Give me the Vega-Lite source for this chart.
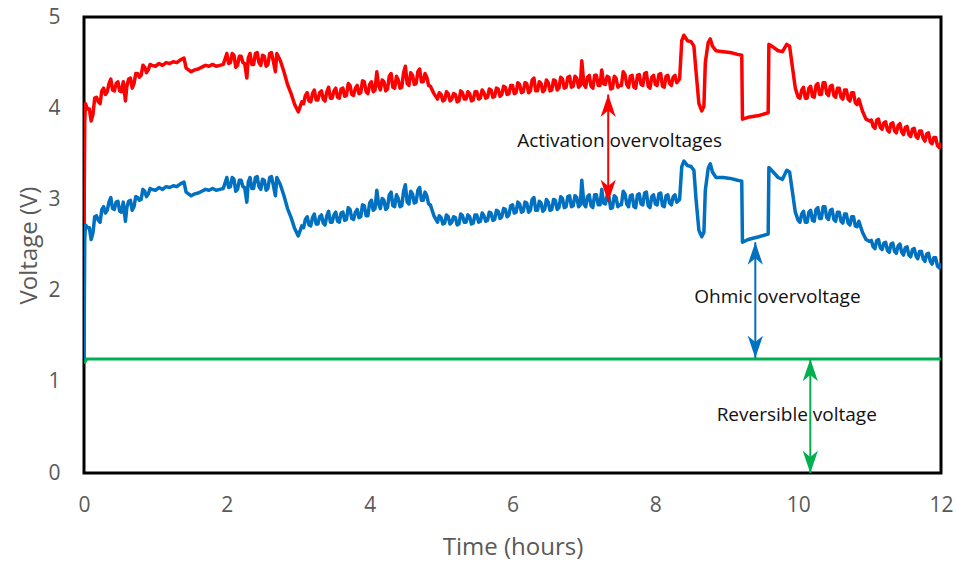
{
  "$schema": "https://vega.github.io/schema/vega-lite/v6.json",
  "width": 857,
  "height": 456,
  "autosize": {"type": "none"},
  "padding": {"left": 84, "top": 17, "right": 15, "bottom": 94},
  "background": "white",
  "datasets": {
    "volt": [
      {"t":0,"a":2.65,"o":1.23},{"t":0.01,"a":3.85,"o":2.55},{"t":0.02,"a":4.05,"o":2.72},
      {"t":0.05,"a":3.99,"o":2.69},{"t":0.10,"a":3.86,"o":2.56},{"t":0.15,"a":4.11,"o":2.81},{"t":0.20,"a":4.07,"o":2.77},
      {"t":0.25,"a":4.19,"o":2.89},{"t":0.30,"a":4.15,"o":2.85},{"t":0.35,"a":4.27,"o":2.97},{"t":0.40,"a":4.20,"o":2.90},
      {"t":0.45,"a":4.27,"o":2.97},{"t":0.50,"a":4.19,"o":2.87},{"t":0.55,"a":4.29,"o":2.97},{"t":0.58,"a":4.08,"o":2.76},
      {"t":0.60,"a":4.24,"o":2.91},{"t":0.65,"a":4.33,"o":2.99},{"t":0.70,"a":4.27,"o":2.92},{"t":0.75,"a":4.38,"o":3.02},
      {"t":0.80,"a":4.36,"o":3.00},{"t":0.85,"a":4.45,"o":3.09},{"t":0.90,"a":4.42,"o":3.06},{"t":0.95,"a":4.47,"o":3.11},
      {"t":1.00,"a":4.46,"o":3.10},{"t":1.05,"a":4.49,"o":3.13},{"t":1.10,"a":4.47,"o":3.11},{"t":1.15,"a":4.50,"o":3.14},
      {"t":1.20,"a":4.49,"o":3.13},{"t":1.25,"a":4.51,"o":3.15},{"t":1.30,"a":4.50,"o":3.14},{"t":1.35,"a":4.53,"o":3.17},
      {"t":1.40,"a":4.55,"o":3.19},{"t":1.43,"a":4.44,"o":3.08},{"t":1.50,"a":4.40,"o":3.04},{"t":1.55,"a":4.42,"o":3.06},
      {"t":1.60,"a":4.43,"o":3.07},{"t":1.65,"a":4.45,"o":3.09},{"t":1.70,"a":4.47,"o":3.11},{"t":1.75,"a":4.46,"o":3.10},
      {"t":1.80,"a":4.48,"o":3.12},{"t":1.85,"a":4.46,"o":3.10},{"t":1.90,"a":4.47,"o":3.11},{"t":1.95,"a":4.48,"o":3.12},
      {"t":2.00,"a":4.60,"o":3.24},{"t":2.05,"a":4.50,"o":3.14},{"t":2.10,"a":4.58,"o":3.22},{"t":2.15,"a":4.47,"o":3.11},
      {"t":2.20,"a":4.57,"o":3.21},{"t":2.25,"a":4.49,"o":3.13},{"t":2.28,"a":4.33,"o":2.97},{"t":2.30,"a":4.55,"o":3.19},
      {"t":2.35,"a":4.48,"o":3.12},{"t":2.40,"a":4.60,"o":3.24},{"t":2.45,"a":4.50,"o":3.14},{"t":2.50,"a":4.58,"o":3.22},
      {"t":2.55,"a":4.46,"o":3.10},{"t":2.60,"a":4.60,"o":3.24},{"t":2.65,"a":4.52,"o":3.16},{"t":2.68,"a":4.40,"o":3.04},
      {"t":2.70,"a":4.60,"o":3.24},{"t":2.75,"a":4.52,"o":3.16},{"t":2.80,"a":4.40,"o":3.04},{"t":2.85,"a":4.26,"o":2.90},
      {"t":2.90,"a":4.16,"o":2.80},{"t":2.95,"a":4.04,"o":2.68},{"t":3.00,"a":3.96,"o":2.60},{"t":3.05,"a":4.07,"o":2.71},
      {"t":3.10,"a":4.14,"o":2.78},{"t":3.15,"a":4.08,"o":2.72},{"t":3.20,"a":4.16,"o":2.80},{"t":3.25,"a":4.09,"o":2.73},
      {"t":3.30,"a":4.17,"o":2.81},{"t":3.35,"a":4.10,"o":2.74},{"t":3.40,"a":4.18,"o":2.82},{"t":3.45,"a":4.11,"o":2.75},
      {"t":3.50,"a":4.19,"o":2.83},{"t":3.55,"a":4.12,"o":2.76},{"t":3.60,"a":4.21,"o":2.85},{"t":3.65,"a":4.13,"o":2.77},
      {"t":3.70,"a":4.27,"o":2.91},{"t":3.75,"a":4.15,"o":2.79},{"t":3.80,"a":4.22,"o":2.86},{"t":3.85,"a":4.16,"o":2.80},
      {"t":3.90,"a":4.30,"o":2.94},{"t":3.95,"a":4.18,"o":2.82},{"t":4.00,"a":4.26,"o":2.96},{"t":4.05,"a":4.18,"o":2.88},
      {"t":4.10,"a":4.40,"o":3.10},{"t":4.15,"a":4.20,"o":2.90},{"t":4.20,"a":4.29,"o":2.99},{"t":4.25,"a":4.21,"o":2.91},
      {"t":4.30,"a":4.38,"o":3.08},{"t":4.35,"a":4.22,"o":2.92},{"t":4.40,"a":4.31,"o":3.01},{"t":4.45,"a":4.23,"o":2.93},
      {"t":4.50,"a":4.46,"o":3.16},{"t":4.55,"a":4.25,"o":2.95},{"t":4.60,"a":4.36,"o":3.06},{"t":4.65,"a":4.27,"o":2.97},
      {"t":4.70,"a":4.43,"o":3.13},{"t":4.75,"a":4.29,"o":2.99},{"t":4.80,"a":4.34,"o":3.04},{"t":4.85,"a":4.24,"o":2.94},
      {"t":4.90,"a":4.16,"o":2.82},{"t":4.95,"a":4.10,"o":2.75},{"t":5.00,"a":4.15,"o":2.80},{"t":5.05,"a":4.09,"o":2.74},
      {"t":5.10,"a":4.16,"o":2.81},{"t":5.15,"a":4.10,"o":2.75},{"t":5.20,"a":4.15,"o":2.80},{"t":5.25,"a":4.08,"o":2.73},
      {"t":5.30,"a":4.17,"o":2.82},{"t":5.35,"a":4.10,"o":2.75},{"t":5.40,"a":4.16,"o":2.81},{"t":5.45,"a":4.09,"o":2.74},
      {"t":5.50,"a":4.18,"o":2.83},{"t":5.55,"a":4.11,"o":2.76},{"t":5.60,"a":4.17,"o":2.82},{"t":5.65,"a":4.12,"o":2.77},
      {"t":5.70,"a":4.20,"o":2.85},{"t":5.75,"a":4.13,"o":2.78},{"t":5.80,"a":4.21,"o":2.87},{"t":5.85,"a":4.15,"o":2.81},
      {"t":5.90,"a":4.23,"o":2.89},{"t":5.95,"a":4.16,"o":2.83},{"t":6.00,"a":4.25,"o":2.94},{"t":6.05,"a":4.17,"o":2.86},
      {"t":6.10,"a":4.26,"o":2.95},{"t":6.15,"a":4.18,"o":2.87},{"t":6.20,"a":4.27,"o":2.96},{"t":6.25,"a":4.19,"o":2.88},
      {"t":6.30,"a":4.33,"o":3.02},{"t":6.35,"a":4.19,"o":2.88},{"t":6.40,"a":4.27,"o":2.96},{"t":6.45,"a":4.20,"o":2.89},
      {"t":6.50,"a":4.28,"o":2.97},{"t":6.55,"a":4.20,"o":2.89},{"t":6.60,"a":4.30,"o":2.99},{"t":6.65,"a":4.22,"o":2.91},
      {"t":6.70,"a":4.32,"o":3.01},{"t":6.75,"a":4.23,"o":2.92},{"t":6.80,"a":4.35,"o":3.04},{"t":6.85,"a":4.24,"o":2.93},
      {"t":6.90,"a":4.33,"o":3.02},{"t":6.95,"a":4.25,"o":2.94},{"t":6.97,"a":4.52,"o":3.21},{"t":7.00,"a":4.26,"o":2.95},
      {"t":7.05,"a":4.34,"o":3.03},{"t":7.10,"a":4.24,"o":2.93},{"t":7.15,"a":4.36,"o":3.05},{"t":7.20,"a":4.25,"o":2.94},
      {"t":7.25,"a":4.42,"o":3.11},{"t":7.30,"a":4.26,"o":2.95},{"t":7.35,"a":4.34,"o":3.03},{"t":7.40,"a":4.22,"o":2.91},
      {"t":7.45,"a":4.33,"o":3.02},{"t":7.50,"a":4.25,"o":2.94},{"t":7.55,"a":4.40,"o":3.09},{"t":7.60,"a":4.26,"o":2.95},
      {"t":7.65,"a":4.35,"o":3.04},{"t":7.70,"a":4.23,"o":2.92},{"t":7.75,"a":4.36,"o":3.05},{"t":7.80,"a":4.26,"o":2.95},
      {"t":7.85,"a":4.38,"o":3.07},{"t":7.90,"a":4.24,"o":2.93},{"t":7.95,"a":4.34,"o":3.03},{"t":8.00,"a":4.26,"o":2.95},
      {"t":8.05,"a":4.37,"o":3.06},{"t":8.10,"a":4.24,"o":2.93},{"t":8.15,"a":4.35,"o":3.04},{"t":8.20,"a":4.27,"o":2.96},
      {"t":8.25,"a":4.34,"o":3.03},{"t":8.30,"a":4.28,"o":2.97},
      {"t":8.34,"a":4.32,"o":3.00},{"t":8.37,"a":4.74,"o":3.36},{"t":8.40,"a":4.80,"o":3.42},{"t":8.45,"a":4.74,"o":3.37},
      {"t":8.50,"a":4.73,"o":3.36},{"t":8.54,"a":4.68,"o":3.32},{"t":8.57,"a":4.40,"o":3.00},{"t":8.61,"a":4.05,"o":2.66},
      {"t":8.65,"a":3.97,"o":2.59},{"t":8.68,"a":4.02,"o":2.64},{"t":8.70,"a":4.50,"o":3.10},{"t":8.74,"a":4.72,"o":3.34},
      {"t":8.77,"a":4.76,"o":3.39},{"t":8.80,"a":4.68,"o":3.30},{"t":8.85,"a":4.63,"o":3.24},{"t":8.95,"a":4.62,"o":3.24},
      {"t":9.05,"a":4.61,"o":3.23},{"t":9.15,"a":4.59,"o":3.21},{"t":9.21,"a":4.58,"o":3.20},{"t":9.22,"a":3.88,"o":2.53},
      {"t":9.30,"a":3.90,"o":2.56},{"t":9.45,"a":3.92,"o":2.59},{"t":9.58,"a":3.95,"o":2.62},{"t":9.59,"a":4.70,"o":3.35},
      {"t":9.65,"a":4.67,"o":3.30},{"t":9.72,"a":4.63,"o":3.24},{"t":9.78,"a":4.62,"o":3.22},{"t":9.84,"a":4.70,"o":3.32},
      {"t":9.88,"a":4.68,"o":3.30},{"t":9.92,"a":4.45,"o":3.08},{"t":9.96,"a":4.22,"o":2.86},{"t":10.00,"a":4.12,"o":2.77},
      {"t":10.05,"a":4.20,"o":2.84},{"t":10.10,"a":4.11,"o":2.75},{"t":10.15,"a":4.22,"o":2.86},{"t":10.20,"a":4.13,"o":2.77},
      {"t":10.25,"a":4.25,"o":2.89},{"t":10.30,"a":4.15,"o":2.79},{"t":10.35,"a":4.28,"o":2.92},{"t":10.40,"a":4.16,"o":2.80},
      {"t":10.45,"a":4.24,"o":2.88},{"t":10.50,"a":4.14,"o":2.78},{"t":10.55,"a":4.22,"o":2.86},{"t":10.60,"a":4.12,"o":2.76},
      {"t":10.65,"a":4.20,"o":2.84},{"t":10.70,"a":4.10,"o":2.74},{"t":10.75,"a":4.17,"o":2.81},{"t":10.80,"a":4.06,"o":2.71},
      {"t":10.85,"a":4.10,"o":2.76},{"t":10.90,"a":3.97,"o":2.64},{"t":10.95,"a":3.88,"o":2.56},{"t":11.00,"a":3.86,"o":2.54},
      {"t":11.05,"a":3.80,"o":2.48},{"t":11.10,"a":3.87,"o":2.55},{"t":11.15,"a":3.79,"o":2.47},{"t":11.20,"a":3.84,"o":2.52},
      {"t":11.25,"a":3.76,"o":2.44},{"t":11.30,"a":3.83,"o":2.51},{"t":11.35,"a":3.75,"o":2.43},{"t":11.40,"a":3.81,"o":2.49},
      {"t":11.45,"a":3.74,"o":2.42},{"t":11.50,"a":3.79,"o":2.47},{"t":11.55,"a":3.71,"o":2.39},{"t":11.60,"a":3.77,"o":2.45},
      {"t":11.65,"a":3.69,"o":2.38},{"t":11.70,"a":3.75,"o":2.43},{"t":11.75,"a":3.67,"o":2.35},{"t":11.80,"a":3.72,"o":2.40},
      {"t":11.85,"a":3.63,"o":2.32},{"t":11.90,"a":3.68,"o":2.36},{"t":11.95,"a":3.59,"o":2.27},{"t":12.00,"a":3.62,"o":2.30},
      {"t":0.075,"a":3.99,"o":2.69},{"t":0.125,"a":3.93,"o":2.63},{"t":0.175,"a":4.12,"o":2.82},{"t":0.225,"a":4.05,"o":2.75},
      {"t":0.275,"a":4.22,"o":2.92},{"t":0.325,"a":4.18,"o":2.88},{"t":0.375,"a":4.32,"o":3.02},{"t":0.425,"a":4.19,"o":2.89},
      {"t":0.475,"a":4.29,"o":2.98},{"t":0.525,"a":4.18,"o":2.86},{"t":0.625,"a":4.32,"o":2.98},{"t":0.675,"a":4.22,"o":2.88},
      {"t":0.725,"a":4.38,"o":3.03},{"t":0.775,"a":4.34,"o":2.99},{"t":0.825,"a":4.47,"o":3.11},{"t":0.875,"a":4.39,"o":3.03},
      {"t":0.925,"a":4.48,"o":3.12},
      {"t":2.025,"a":4.49,"o":3.13},{"t":2.075,"a":4.60,"o":3.24},{"t":2.125,"a":4.45,"o":3.09},{"t":2.175,"a":4.57,"o":3.21},
      {"t":2.225,"a":4.50,"o":3.14},{"t":2.325,"a":4.60,"o":3.24},{"t":2.375,"a":4.48,"o":3.12},{"t":2.425,"a":4.61,"o":3.25},
      {"t":2.475,"a":4.47,"o":3.11},{"t":2.525,"a":4.57,"o":3.21},{"t":2.575,"a":4.48,"o":3.12},{"t":2.625,"a":4.61,"o":3.25},
      {"t":3.075,"a":4.05,"o":2.69},{"t":3.125,"a":4.17,"o":2.81},{"t":3.175,"a":4.07,"o":2.71},{"t":3.225,"a":4.20,"o":2.84},
      {"t":3.275,"a":4.09,"o":2.73},{"t":3.325,"a":4.19,"o":2.83},{"t":3.375,"a":4.08,"o":2.72},{"t":3.425,"a":4.23,"o":2.87},
      {"t":3.475,"a":4.11,"o":2.75},{"t":3.525,"a":4.22,"o":2.86},{"t":3.575,"a":4.11,"o":2.75},{"t":3.625,"a":4.22,"o":2.86},
      {"t":3.675,"a":4.14,"o":2.78},{"t":3.725,"a":4.25,"o":2.89},{"t":3.775,"a":4.14,"o":2.78},{"t":3.825,"a":4.25,"o":2.89},
      {"t":3.875,"a":4.17,"o":2.81},{"t":3.925,"a":4.29,"o":2.93},{"t":3.975,"a":4.16,"o":2.82},{"t":4.025,"a":4.29,"o":2.99},
      {"t":4.075,"a":4.20,"o":2.90},{"t":4.125,"a":4.25,"o":2.95},{"t":4.175,"a":4.31,"o":3.01},{"t":4.225,"a":4.19,"o":2.89},
      {"t":4.275,"a":4.35,"o":3.05},{"t":4.325,"a":4.23,"o":2.93},{"t":4.375,"a":4.35,"o":3.05},{"t":4.425,"a":4.22,"o":2.92},
      {"t":4.475,"a":4.39,"o":3.09},{"t":4.525,"a":4.27,"o":2.97},{"t":4.575,"a":4.39,"o":3.09},{"t":4.625,"a":4.26,"o":2.96},
      {"t":4.675,"a":4.40,"o":3.10},{"t":4.725,"a":4.29,"o":2.99},{"t":4.775,"a":4.38,"o":3.08},{"t":4.825,"a":4.25,"o":2.95},
      {"t":4.975,"a":4.17,"o":2.82},{"t":5.025,"a":4.08,"o":2.73},{"t":5.075,"a":4.18,"o":2.83},{"t":5.125,"a":4.08,"o":2.73},
      {"t":5.175,"a":4.16,"o":2.81},{"t":5.225,"a":4.07,"o":2.72},{"t":5.275,"a":4.19,"o":2.84},{"t":5.325,"a":4.10,"o":2.75},
      {"t":5.375,"a":4.18,"o":2.83},{"t":5.425,"a":4.08,"o":2.73},{"t":5.475,"a":4.18,"o":2.83},{"t":5.525,"a":4.10,"o":2.75},
      {"t":5.575,"a":4.20,"o":2.85},{"t":5.625,"a":4.11,"o":2.76},{"t":5.675,"a":4.21,"o":2.86},{"t":5.725,"a":4.12,"o":2.77},
      {"t":5.775,"a":4.22,"o":2.88},{"t":5.825,"a":4.13,"o":2.79},{"t":5.875,"a":4.24,"o":2.90},{"t":5.925,"a":4.15,"o":2.81},
      {"t":5.975,"a":4.25,"o":2.93},
      {"t":6.025,"a":4.16,"o":2.85},{"t":6.075,"a":4.28,"o":2.97},{"t":6.125,"a":4.17,"o":2.86},{"t":6.175,"a":4.28,"o":2.97},
      {"t":6.225,"a":4.17,"o":2.86},{"t":6.275,"a":4.31,"o":3.00},{"t":6.325,"a":4.19,"o":2.88},{"t":6.375,"a":4.29,"o":2.98},
      {"t":6.425,"a":4.18,"o":2.87},{"t":6.475,"a":4.31,"o":3.00},{"t":6.525,"a":4.19,"o":2.88},{"t":6.575,"a":4.31,"o":3.00},
      {"t":6.625,"a":4.20,"o":2.89},{"t":6.675,"a":4.34,"o":3.03},{"t":6.725,"a":4.22,"o":2.91},{"t":6.775,"a":4.34,"o":3.03},
      {"t":6.825,"a":4.23,"o":2.92},{"t":6.875,"a":4.35,"o":3.04},{"t":6.925,"a":4.23,"o":2.92},{"t":7.025,"a":4.23,"o":2.92},
      {"t":7.075,"a":4.36,"o":3.05},{"t":7.125,"a":4.22,"o":2.91},{"t":7.175,"a":4.36,"o":3.05},{"t":7.225,"a":4.25,"o":2.94},
      {"t":7.275,"a":4.27,"o":2.96},{"t":7.325,"a":4.35,"o":3.04},{"t":7.375,"a":4.21,"o":2.90},{"t":7.425,"a":4.35,"o":3.04},
      {"t":7.475,"a":4.23,"o":2.92},{"t":7.525,"a":4.25,"o":2.94},{"t":7.575,"a":4.37,"o":3.06},{"t":7.625,"a":4.23,"o":2.92},
      {"t":7.675,"a":4.36,"o":3.05},{"t":7.725,"a":4.22,"o":2.91},{"t":7.775,"a":4.37,"o":3.06},{"t":7.825,"a":4.25,"o":2.94},
      {"t":7.875,"a":4.39,"o":3.08},{"t":7.925,"a":4.22,"o":2.91},{"t":7.975,"a":4.36,"o":3.05},{"t":8.025,"a":4.25,"o":2.94},
      {"t":8.075,"a":4.38,"o":3.07},{"t":8.125,"a":4.23,"o":2.92},{"t":8.175,"a":4.36,"o":3.05},{"t":8.225,"a":4.25,"o":2.94},
      {"t":8.275,"a":4.36,"o":3.05},
      {"t":10.025,"a":4.11,"o":2.75},{"t":10.075,"a":4.23,"o":2.87},{"t":10.125,"a":4.11,"o":2.75},{"t":10.175,"a":4.24,"o":2.88},
      {"t":10.225,"a":4.12,"o":2.76},{"t":10.275,"a":4.27,"o":2.91},{"t":10.325,"a":4.15,"o":2.79},{"t":10.375,"a":4.28,"o":2.92},
      {"t":10.425,"a":4.14,"o":2.78},{"t":10.475,"a":4.25,"o":2.89},{"t":10.525,"a":4.12,"o":2.76},{"t":10.575,"a":4.22,"o":2.86},
      {"t":10.625,"a":4.10,"o":2.74},{"t":10.675,"a":4.20,"o":2.84},{"t":10.725,"a":4.08,"o":2.72},{"t":10.775,"a":4.17,"o":2.81},
      {"t":10.825,"a":4.04,"o":2.70},
      {"t":11.025,"a":3.87,"o":2.55},{"t":11.075,"a":3.78,"o":2.46},{"t":11.125,"a":3.88,"o":2.56},{"t":11.175,"a":3.77,"o":2.45},
      {"t":11.225,"a":3.85,"o":2.53},{"t":11.275,"a":3.74,"o":2.42},{"t":11.325,"a":3.84,"o":2.52},{"t":11.375,"a":3.73,"o":2.41},
      {"t":11.425,"a":3.83,"o":2.51},{"t":11.475,"a":3.71,"o":2.39},{"t":11.525,"a":3.80,"o":2.48},{"t":11.575,"a":3.69,"o":2.37},
      {"t":11.625,"a":3.78,"o":2.46},{"t":11.675,"a":3.67,"o":2.35},{"t":11.725,"a":3.75,"o":2.43},{"t":11.775,"a":3.64,"o":2.32},
      {"t":11.825,"a":3.73,"o":2.41},{"t":11.875,"a":3.61,"o":2.29},{"t":11.925,"a":3.68,"o":2.36},{"t":11.975,"a":3.57,"o":2.25}
    ],
    "rev": [
      {"t":0,"v":1.2},{"t":0.04,"v":1.25},{"t":12,"v":1.25}
    ],
    "arrows": [
      {"s":"act","t":7.34,"lo":2.97,"hi":4.15},
      {"s":"ohm","t":9.40,"lo":1.26,"hi":2.53},
      {"s":"rev","t":10.17,"lo":0.0,"hi":1.25}
    ],
    "heads": [
      {"s":"act","t":7.34,"v":4.15,"dir":"up"},{"s":"act","t":7.34,"v":2.97,"dir":"down"},
      {"s":"ohm","t":9.40,"v":2.53,"dir":"up"},{"s":"ohm","t":9.40,"v":1.26,"dir":"down"},
      {"s":"rev","t":10.17,"v":1.25,"dir":"up"},{"s":"rev","t":10.17,"v":0.0,"dir":"down"}
    ],
    "labels": [
      {"t":7.50,"v":3.64,"label":"Activation overvoltages"},
      {"t":9.71,"v":1.93,"label":"Ohmic overvoltage"},
      {"t":9.98,"v":0.64,"label":"Reversible voltage"}
    ]
  },
  "encoding": {
    "x": {
      "field": "t",
      "type": "quantitative",
      "title": "Time (hours)",
      "scale": {"domain": [0, 12], "nice": false},
      "axis": {"values": [0, 2, 4, 6, 8, 10, 12], "labelFlush": false, "format": "d"}
    }
  },
  "layer": [
    {
      "data": {"name": "volt"},
      "mark": {"type": "line", "color": "#ff0000", "strokeWidth": 3.5, "strokeJoin": "round", "clip": true},
      "encoding": {
        "y": {"field": "a", "type": "quantitative", "title": "Voltage (V)",
              "scale": {"domain": [0, 5], "nice": false},
              "axis": {"values": [0, 1, 2, 3, 4, 5], "format": "d"}}
      }
    },
    {
      "data": {"name": "volt"},
      "mark": {"type": "line", "color": "#0070c0", "strokeWidth": 3.5, "strokeJoin": "round", "clip": true},
      "encoding": {
        "y": {"field": "o", "type": "quantitative", "title": "Voltage (V)", "scale": {"domain": [0, 5], "nice": false}}
      }
    },
    {
      "data": {"name": "rev"},
      "mark": {"type": "line", "color": "#00b050", "strokeWidth": 3, "clip": true},
      "encoding": {
        "y": {"field": "v", "type": "quantitative", "title": "Voltage (V)", "scale": {"domain": [0, 5], "nice": false}}
      }
    },
    {
      "data": {"name": "arrows"},
      "mark": {"type": "rule", "strokeWidth": 2},
      "encoding": {
        "y": {"field": "lo", "type": "quantitative", "title": "Voltage (V)", "scale": {"domain": [0, 5], "nice": false}},
        "y2": {"field": "hi"},
        "color": {"field": "s", "type": "nominal", "legend": null,
                  "scale": {"domain": ["act", "ohm", "rev"], "range": ["#ff0000", "#0070c0", "#00b050"]}}
      }
    },
    {
      "data": {"name": "heads"},
      "mark": {"type": "point", "filled": true, "opacity": 1, "size": 2000, "strokeWidth": 0},
      "encoding": {
        "y": {"field": "v", "type": "quantitative", "title": "Voltage (V)", "scale": {"domain": [0, 5], "nice": false}},
        "color": {"field": "s", "type": "nominal", "legend": null,
                  "scale": {"domain": ["act", "ohm", "rev"], "range": ["#ff0000", "#0070c0", "#00b050"]}},
        "shape": {"field": "dir", "type": "nominal", "legend": null,
                  "scale": {"domain": ["up", "down"],
                            "range": ["M0,0 L0.34,1 L0,0.72 L-0.34,1 Z", "M0,0 L0.34,-1 L0,-0.72 L-0.34,-1 Z"]}}
      }
    },
    {
      "data": {"name": "labels"},
      "mark": {"type": "text", "font": "Open Sans", "fontSize": 19, "color": "#111111", "align": "center", "baseline": "middle"},
      "encoding": {
        "y": {"field": "v", "type": "quantitative", "title": "Voltage (V)", "scale": {"domain": [0, 5], "nice": false}},
        "text": {"field": "label"}
      }
    }
  ],
  "config": {
    "view": {"stroke": "#000000", "strokeWidth": 3},
    "axis": {
      "grid": false, "ticks": false, "tickSize": 0, "domain": false,
      "labelColor": "#595959", "titleColor": "#595959",
      "labelFont": "Open Sans", "titleFont": "Open Sans",
      "labelFontSize": 21, "titleFontSize": 24, "titleFontWeight": "normal"
    },
    "axisX": {"labelPadding": 21, "titlePadding": 20},
    "axisY": {"labelPadding": 24, "titlePadding": 6}
  }
}
